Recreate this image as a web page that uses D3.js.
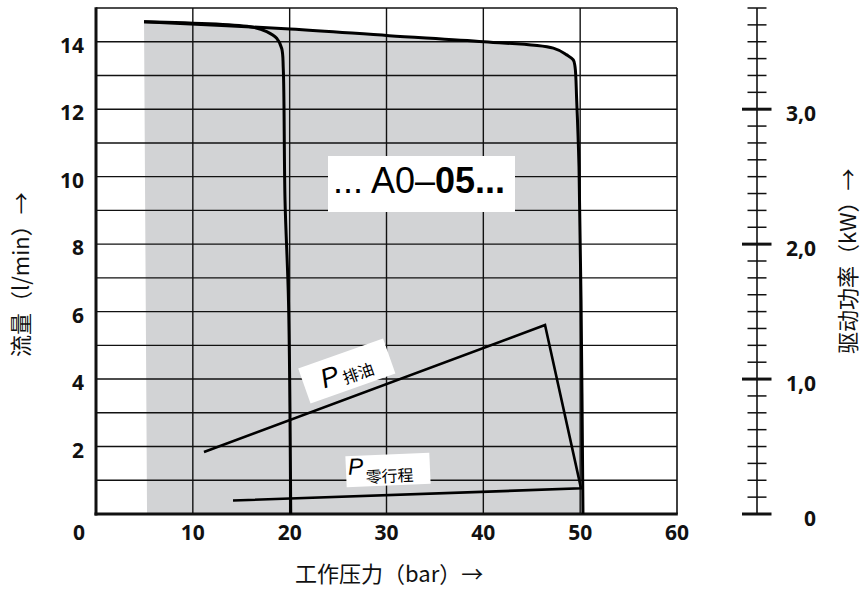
<!DOCTYPE html>
<html><head><meta charset="utf-8">
<script src="https://cdn.jsdelivr.net/npm/d3@7"></script>
<style>body{margin:0;background:#fff;}svg{display:block;}</style>
</head><body>
<svg id="chart" width="861" height="593"></svg>
<script>
// ---------- data ----------
const xTickValues = [10, 20, 30, 40, 50, 60];
const xGridValues = [10, 20, 30, 40, 50];
const yTickValues = [2, 4, 6, 8, 10, 12, 14];
const yGridValues = [1,2,3,4,5,6,7,8,9,10,11,12,13,14];
const powerMajorTicks = [0, 1, 2, 3];
const powerMajorLabels = ["0", "1,0", "2,0", "3,0"];
const powerMinorStep = 0.125;
// flow characteristic: pressure (bar), flow (l/min)
const outerPressure = [4.96, 20.03, 30.26, 40.07, 47.23, 48.61, 49.29, 49.47, 49.64, 49.88, 50.09, 50.29];
const outerFlow     = [14.59, 14.38, 14.18, 14.0, 13.81, 13.61, 13.46, 13.26, 12.27, 10.3, 6.34, 0];
const innerPressure = [4.96, 16.2, 17.63, 18.66, 19.18, 19.34, 19.52, 19.88, 20.11];
const innerFlow     = [14.59, 14.43, 14.3, 14.1, 13.8, 13.2, 9.3, 6.3, 0];
const shadeLeftBottom = [5.27, 0];
// drive power polyline (pressure bar, power kW)
const powerPressure = [11.15, 46.37, 50.09, 14.15];
const powerKW       = [0.46, 1.40, 0.19, 0.10];
const xTitle = "工作压力（bar）→";
const yTitle = "流量（l/min）→";
const y2Title = "驱动功率（kW）→";

// ---------- scales ----------
const svg = d3.select("#chart");
const L = 96, R = 677, T = 8, B = 514;
const x = d3.scaleLinear().domain([0, 60]).range([L, R]);
const y = d3.scaleLinear().domain([0, 15]).range([B, T]);
const y2 = d3.scaleLinear().domain([0, 3.75]).range([B, T]);

const outer = outerPressure.map((p, i) => [p, outerFlow[i]]);
const inner = innerPressure.map((p, i) => [p, innerFlow[i]]);
const power = powerPressure.map((p, i) => [p, powerKW[i]]);

// gray shaded area
const shadePts = outer.concat([shadeLeftBottom]);
const lineFlow = d3.line().x(d => x(d[0])).y(d => y(d[1])).curve(d3.curveCatmullRom.alpha(0.5));
svg.append("path")
  .attr("d", d3.line().x(d => x(d[0])).y(d => y(d[1])).curve(d3.curveLinearClosed)(shadePts))
  .attr("fill", "#d2d3d5");

// grid
const g = svg.append("g").attr("stroke", "#111").attr("stroke-width", 1.4);
g.selectAll(".vg").data(xGridValues).join("line")
  .attr("x1", d => x(d)).attr("x2", d => x(d)).attr("y1", T).attr("y2", B);
g.selectAll(".hg").data(yGridValues).join("line")
  .attr("x1", L).attr("x2", R).attr("y1", d => y(d)).attr("y2", d => y(d));
// frame
svg.append("line").attr("x1", L).attr("x2", R).attr("y1", T).attr("y2", T).attr("stroke", "#111").attr("stroke-width", 1.4);
svg.append("line").attr("x1", R).attr("x2", R).attr("y1", T).attr("y2", B).attr("stroke", "#111").attr("stroke-width", 1.6);
svg.append("line").attr("x1", L).attr("x2", L).attr("y1", T - 0.7).attr("y2", B + 1.5).attr("stroke", "#111").attr("stroke-width", 3);
svg.append("line").attr("x1", L - 1.5).attr("x2", R + 0.8).attr("y1", B).attr("y2", B).attr("stroke", "#111").attr("stroke-width", 3);

// curves
svg.append("path").attr("d", lineFlow(outer)).attr("fill", "none").attr("stroke", "#000").attr("stroke-width", 3);
svg.append("path").attr("d", lineFlow(inner)).attr("fill", "none").attr("stroke", "#000").attr("stroke-width", 3);
svg.append("path")
  .attr("d", d3.line().x(d => x(d[0])).y(d => y2(d[1]))(power))
  .attr("fill", "none").attr("stroke", "#000").attr("stroke-width", 2.6).attr("stroke-linejoin", "miter");

// tick labels
const tickFont = "'Open Sans', 'Noto Sans', sans-serif";
const TF = 21;
svg.append("g").selectAll("text").data(xTickValues).join("text")
  .attr("x", d => x(d)).attr("y", 540).attr("text-anchor", "middle")
  .attr("font-family", tickFont).attr("font-weight", 700).attr("font-size", TF).attr("fill", "#111")
  .text(d => d);
svg.append("text").attr("x", 79).attr("y", 540).attr("text-anchor", "middle")
  .attr("font-family", tickFont).attr("font-weight", 700).attr("font-size", TF).attr("fill", "#111").text("0");
svg.append("g").selectAll("text").data(yTickValues).join("text")
  .attr("x", 84).attr("y", d => y(d) + 11).attr("text-anchor", "end")
  .attr("font-family", tickFont).attr("font-weight", 700).attr("font-size", TF).attr("fill", "#111")
  .text(d => d);

// right power axis
const AX = 757;
const ax2 = svg.append("g").attr("stroke", "#111");
ax2.append("line").attr("x1", AX).attr("x2", AX).attr("y1", y2(3.75)).attr("y2", y2(0)).attr("stroke-width", 1.6);
const minor = d3.range(0, 3.75 + 1e-6, powerMinorStep).filter(v => Math.abs(v - Math.round(v)) > 1e-6);
ax2.selectAll(".mi").data(minor).join("line")
  .attr("x1", AX - 9.5).attr("x2", AX + 9.5).attr("y1", d => y2(d)).attr("y2", d => y2(d)).attr("stroke-width", 1.5);
ax2.selectAll(".ma").data(powerMajorTicks).join("line")
  .attr("x1", AX - 15).attr("x2", AX + 14.5).attr("y1", d => y2(d)).attr("y2", d => y2(d)).attr("stroke-width", 3);
svg.append("g").selectAll("text").data(powerMajorTicks).join("text")
  .attr("x", 816).attr("y", d => y2(d) + 12).attr("text-anchor", "end")
  .attr("font-family", tickFont).attr("font-weight", 700).attr("font-size", TF).attr("fill", "#111")
  .text((d, i) => powerMajorLabels[i]);

// axis titles
const cjk = "'Noto Sans CJK SC', 'Noto Sans', sans-serif";
svg.append("text").attr("x", 295).attr("y", 572).attr("dominant-baseline", "central")
  .attr("font-family", cjk).attr("font-size", 22).attr("fill", "#111").text(xTitle);
svg.append("text").attr("transform", "translate(19,357) rotate(-90)").attr("dominant-baseline", "central")
  .attr("font-family", cjk).attr("font-size", 22).attr("fill", "#111").text(yTitle);
svg.append("text").attr("transform", "translate(846,354) rotate(-90)").attr("dominant-baseline", "central")
  .attr("font-family", cjk).attr("font-size", 22).attr("fill", "#111").text(y2Title);

// model label box
svg.append("rect").attr("x", 328).attr("y", 156).attr("width", 187).attr("height", 56).attr("fill", "#fff");
const mt = svg.append("text").attr("x", 419).attr("y", 193).attr("text-anchor", "middle")
  .attr("font-family", "'Liberation Sans', Arial, sans-serif").attr("font-size", 36).attr("fill", "#000");
mt.append("tspan").text("... A0–");
mt.append("tspan").attr("font-weight", 700).text("05...");

// P排油 label
const p1 = svg.append("g").attr("transform", "translate(346.8,371) rotate(-19.5)");
p1.append("rect").attr("x", -45).attr("y", -18.5).attr("width", 90).attr("height", 37).attr("fill", "#fff");
const t1 = p1.append("text").attr("x", -27).attr("y", 9).attr("fill", "#000");
t1.append("tspan").attr("font-family", "'Liberation Sans', Arial, sans-serif").attr("font-style", "italic").attr("font-size", 27).text("P");
t1.append("tspan").attr("font-family", cjk).attr("font-size", 16).attr("dx", 3).attr("dy", 3).text("排油");

// P零行程 label
const p2 = svg.append("g").attr("transform", "translate(388,470) rotate(-2.5)");
p2.append("rect").attr("x", -42).attr("y", -15.5).attr("width", 84).attr("height", 31).attr("fill", "#fff");
const t2 = p2.append("text").attr("x", -40).attr("y", 3).attr("fill", "#000");
t2.append("tspan").attr("font-family", "'Liberation Sans', Arial, sans-serif").attr("font-style", "italic").attr("font-size", 23).text("P");
t2.append("tspan").attr("font-family", cjk).attr("font-size", 16).attr("dx", 2).attr("dy", 9).text("零行程");
</script>
</body></html>
